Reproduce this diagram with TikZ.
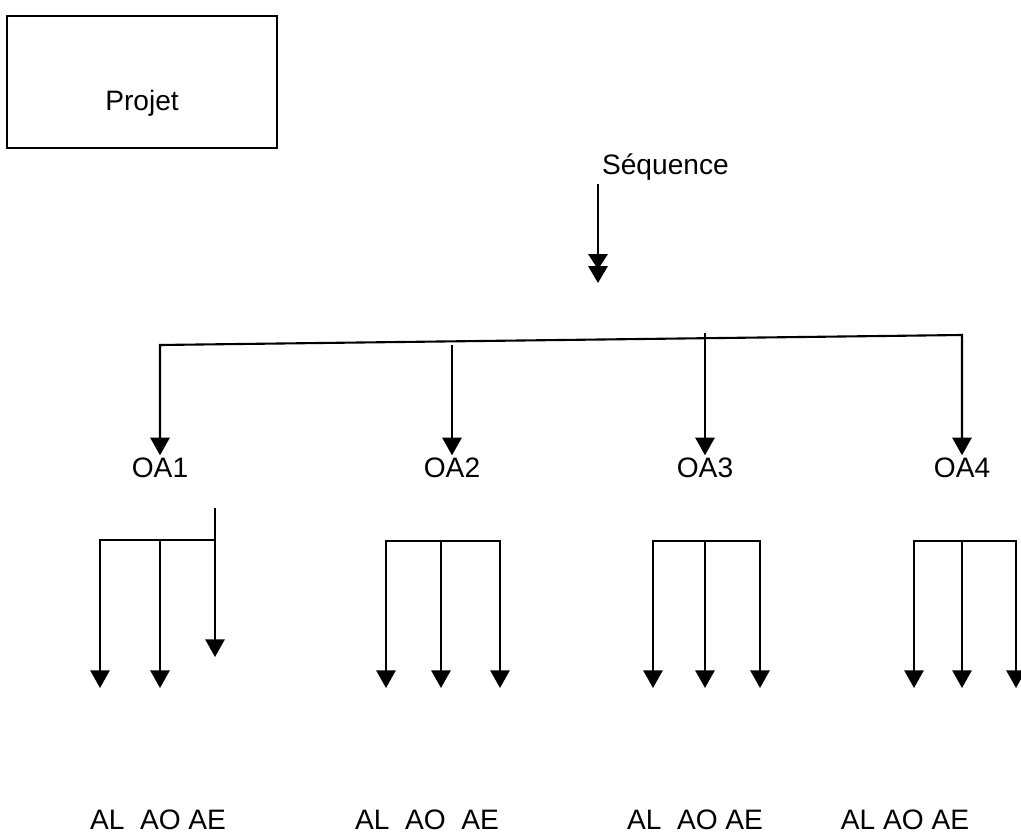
\documentclass[tikz,border=0pt]{standalone}
\usepackage{fontspec}
\setmainfont{Liberation Sans}
\usetikzlibrary{arrows.meta}
\tikzset{
    projectbox/.style = {
        draw,
        shape=rectangle,
        minimum width=6.75cm,
        minimum height=3.3cm,
        text height=1.6cm,
        text depth=0.2cm,
        line width=1.5pt
    },
    txt/.style = {
        inner sep=2pt,
        anchor=base
    },
    connector/.style = {
        draw,
        line width=1.5pt
    },
    seqarrow/.style = {
        draw,
        line width=1.5pt,
        -{Triangle[width=0.48cm,length=0.38cm,sep=-0.08cm]Triangle[width=0.48cm,length=0.42cm]}
    },
    >={Triangle[width=0.48cm,length=0.44cm]},
}
\begin{document}
\begin{tikzpicture}[x=0.025cm, y=-0.025cm, font=\fontsize{20}{24}\selectfont]
            \useasboundingbox (0,0) rectangle (1021,833);

            \node[projectbox] (projet) at (142,82) {Projet};
            \node[txt, anchor=base west] (sequence) at (599,175) {Séquence};

            \node[txt] (oa1) at (160,478) {OA1};
            \node[txt] (oa2) at (452,478) {OA2};
            \node[txt] (oa3) at (705,478) {OA3};
            \node[txt] (oa4) at (962,478) {OA4};

            \node[txt] (act1) at (158,829) {AL\ \ AO AE};
            \node[txt] (act2) at (427,829) {AL\ \ AO\ \ AE};
            \node[txt] (act3) at (695,829) {AL\ \ AO AE};
            \node[txt] (act4) at (905,829) {AL AO AE};

            \coordinate (seqend) at (598,283);
            \coordinate (bus1) at (160,345);
            \coordinate (bus2) at (452,345);
            \coordinate (bus3) at (705,333);
            \coordinate (bus4) at (962,335);

            \coordinate (oa1out) at (215,508);
            \coordinate (h1a) at (100,540);
            \coordinate (h1b) at (160,540);
            \coordinate (h1c) at (215,540);
            \coordinate (g1a) at (100,688);
            \coordinate (g1b) at (160,688);
            \coordinate (g1c) at (215,657);

            \coordinate (h2a) at (386,541);
            \coordinate (h2b) at (441,541);
            \coordinate (h2c) at (500,541);
            \coordinate (g2a) at (386,688);
            \coordinate (g2b) at (441,688);
            \coordinate (g2c) at (500,688);

            \coordinate (h3a) at (653,541);
            \coordinate (h3b) at (705,541);
            \coordinate (h3c) at (760,541);
            \coordinate (g3a) at (653,688);
            \coordinate (g3b) at (705,688);
            \coordinate (g3c) at (760,688);

            \coordinate (h4a) at (914,541);
            \coordinate (h4b) at (962,541);
            \coordinate (h4c) at (1016,541);
            \coordinate (g4a) at (914,688);
            \coordinate (g4b) at (962,688);
            \coordinate (g4c) at (1016,688);

            \path[seqarrow] (seqend |- sequence.south) -- (seqend);

            \path[connector, <->] (oa1.north) -- (bus1) -- (bus4) -- (oa4.north);
            \path[connector, ->] (bus2) -- (oa2.north);
            \path[connector, ->] (bus3) -- (oa3.north);

            \path[connector, ->] (h1c) -- (h1a) -- (g1a);
            \path[connector, ->] (h1b) -- (g1b);
            \path[connector, ->] (oa1out) -- (g1c);

            \path[connector, <->] (g2a) -- (h2a) -- (h2c) -- (g2c);
            \path[connector, ->] (h2b) -- (g2b);

            \path[connector, <->] (g3a) -- (h3a) -- (h3c) -- (g3c);
            \path[connector, ->] (h3b) -- (g3b);

            \path[connector, <->] (g4a) -- (h4a) -- (h4c) -- (g4c);
            \path[connector, ->] (h4b) -- (g4b);
\end{tikzpicture}
\end{document}
